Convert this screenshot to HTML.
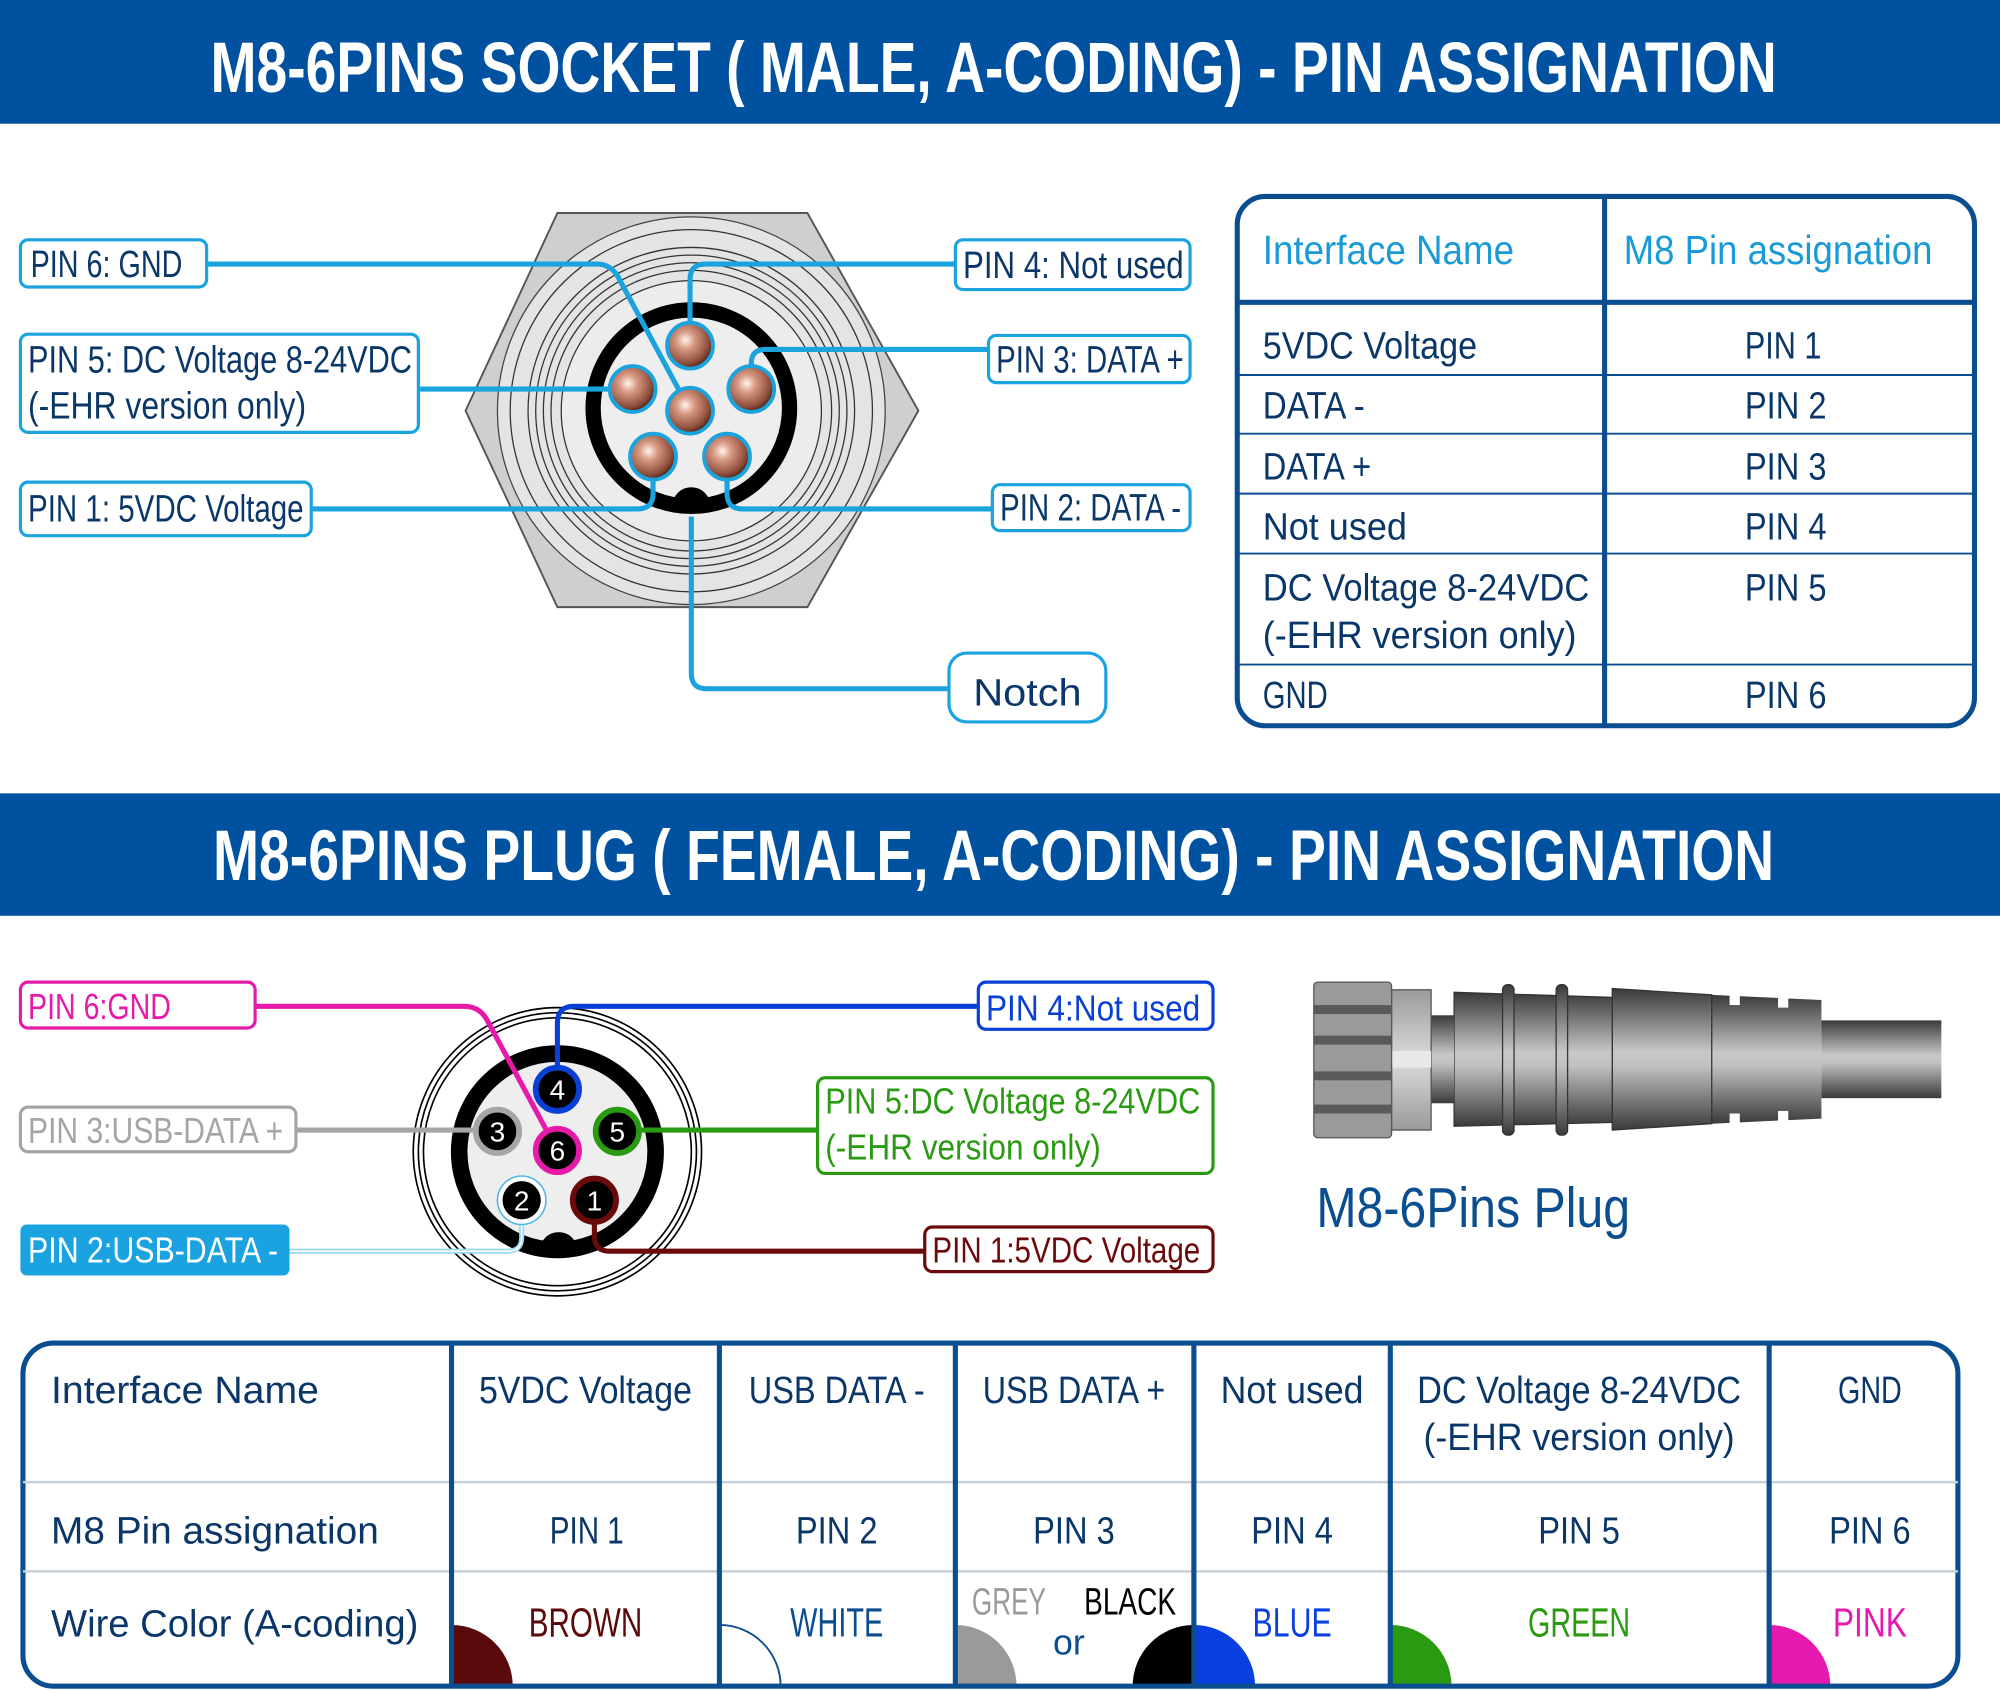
<!DOCTYPE html>
<html><head><meta charset="utf-8"><style>
html,body{margin:0;padding:0;background:#fff;}
svg{display:block;}
text{font-family:"Liberation Sans",sans-serif;}
.t{fill:#0a3768;font-size:30px;}
.hd{fill:#fff;font-size:56px;font-weight:bold;}
</style></head><body>
<svg width="2000" height="1690" viewBox="0 0 1568 1325" preserveAspectRatio="none" xmlns="http://www.w3.org/2000/svg">
<defs>
<radialGradient id="cu" cx="0.4" cy="0.38" r="0.65">
<stop offset="0" stop-color="#fff4ee"/><stop offset="0.3" stop-color="#d99a84"/><stop offset="0.8" stop-color="#8a4a38"/><stop offset="1" stop-color="#3a1a10"/></radialGradient>
<linearGradient id="gv" x1="0" y1="0" x2="0" y2="1">
<stop offset="0" stop-color="#3a3a3a"/><stop offset="0.45" stop-color="#c8c8c8"/><stop offset="0.55" stop-color="#c0c0c0"/><stop offset="1" stop-color="#3a3a3a"/></linearGradient>
<linearGradient id="gl" x1="0" y1="0" x2="0" y2="1">
<stop offset="0" stop-color="#9a9a9a"/><stop offset="0.5" stop-color="#dcdcdc"/><stop offset="1" stop-color="#9a9a9a"/></linearGradient>
</defs>

<rect x="0" y="0" width="1568" height="97" fill="#0052a0"/>
<text x="779" y="72" text-anchor="middle" class="hd" textLength="1228" lengthAdjust="spacingAndGlyphs">M8-6PINS SOCKET ( MALE, A-CODING) - PIN ASSIGNATION</text>

<polygon points="437,167 633,167 720,322 633,476 437,476 365,322" fill="#cfcfcf" stroke="#555" stroke-width="1.5"/>
<circle cx="542" cy="322" r="152" fill="#e4e4e4" stroke="#444" stroke-width="1"/>
<circle cx="542" cy="322" r="142" fill="none" stroke="#333" stroke-width="1"/>
<circle cx="542" cy="322" r="128" fill="none" stroke="#333" stroke-width="1"/>
<circle cx="542" cy="322" r="122" fill="none" stroke="#333" stroke-width="1"/>
<circle cx="542" cy="322" r="116" fill="none" stroke="#333" stroke-width="1"/>
<circle cx="542" cy="322" r="110" fill="none" stroke="#333" stroke-width="1"/>
<circle cx="542" cy="322" r="102" fill="#ececec" stroke="#333" stroke-width="1"/>
<circle cx="542" cy="320" r="77" fill="#eeeeee" stroke="#000" stroke-width="12"/>
<path d="M527,397 A15,15 0 0 1 557,397 Z" fill="#000"/>
<g stroke="#1aa3dd" stroke-width="4" fill="none">
<path d="M162,207 H468 Q478,207 484,216 L541,322"/>
<path d="M328,305 H480"/>
<path d="M244,399 H500 Q512,399 512,387 V375"/>
<path d="M749,207 H553 Q541,207 541,219 V255"/>
<path d="M775,274 H600 Q589,274 589,285 V290"/>
<path d="M778,399 H582 Q570,399 570,387 V375"/>
<path d="M542,405 V528 Q542,540 554,540 H744"/>
</g>
<g stroke="#1aa3dd" stroke-width="3" fill="url(#cu)">
<circle cx="541" cy="271" r="18"/><circle cx="496" cy="305" r="18"/><circle cx="589" cy="305" r="18"/>
<circle cx="541" cy="322" r="18"/><circle cx="512" cy="358" r="18"/><circle cx="570" cy="358" r="18"/>
</g>
<g fill="#fff" stroke="#1aa3dd" stroke-width="2.5">
<rect x="16" y="188" width="146" height="37" rx="6"/>
<rect x="16" y="262" width="312" height="77" rx="6"/>
<rect x="16" y="378" width="228" height="42" rx="6"/>
<rect x="749" y="188" width="184" height="39" rx="6"/>
<rect x="775" y="263" width="158" height="37" rx="6"/>
<rect x="778" y="380" width="155" height="36" rx="6"/>
<rect x="744" y="512" width="123" height="54" rx="14"/>
</g>
<g class="t" font-size="28" lengthAdjust="spacingAndGlyphs">
<text x="24" y="217" textLength="119" lengthAdjust="spacingAndGlyphs">PIN 6: GND</text>
<text x="22" y="292" textLength="301" lengthAdjust="spacingAndGlyphs">PIN 5: DC Voltage 8-24VDC</text>
<text x="22" y="328" textLength="218" lengthAdjust="spacingAndGlyphs">(-EHR version only)</text>
<text x="22" y="409" textLength="216" lengthAdjust="spacingAndGlyphs">PIN 1: 5VDC Voltage</text>
<text x="755" y="218" textLength="173" lengthAdjust="spacingAndGlyphs">PIN 4: Not used</text>
<text x="781" y="292" textLength="147" lengthAdjust="spacingAndGlyphs">PIN 3: DATA +</text>
<text x="784" y="408" textLength="142" lengthAdjust="spacingAndGlyphs">PIN 2: DATA -</text>
</g>
<text x="763" y="553" class="t" font-size="36" textLength="85" lengthAdjust="spacingAndGlyphs">Notch</text>

<rect x="970" y="154" width="578" height="415" rx="22" fill="none" stroke="#0b4e8f" stroke-width="4"/>
<line x1="1258" y1="154" x2="1258" y2="569" stroke="#0b4e8f" stroke-width="4"/>
<line x1="970" y1="237" x2="1548" y2="237" stroke="#0b4e8f" stroke-width="4"/>
<g stroke="#0b4e8f" stroke-width="1.5">
<line x1="970" y1="294" x2="1548" y2="294"/><line x1="970" y1="340" x2="1548" y2="340"/>
<line x1="970" y1="387" x2="1548" y2="387"/><line x1="970" y1="434" x2="1548" y2="434"/>
<line x1="970" y1="521" x2="1548" y2="521"/>
</g>
<text x="990" y="207" font-size="32" fill="#1a9ad6" textLength="197" lengthAdjust="spacingAndGlyphs">Interface Name</text>
<text x="1273" y="207" font-size="32" fill="#1a9ad6" textLength="242" lengthAdjust="spacingAndGlyphs">M8 Pin assignation</text>
<g class="t">
<text x="990" y="281" textLength="168" lengthAdjust="spacingAndGlyphs">5VDC Voltage</text>
<text x="990" y="328" textLength="80" lengthAdjust="spacingAndGlyphs">DATA -</text>
<text x="990" y="376" textLength="85" lengthAdjust="spacingAndGlyphs">DATA +</text>
<text x="990" y="423" textLength="113" lengthAdjust="spacingAndGlyphs">Not used</text>
<text x="990" y="471" textLength="256" lengthAdjust="spacingAndGlyphs">DC Voltage 8-24VDC</text>
<text x="990" y="508" textLength="246" lengthAdjust="spacingAndGlyphs">(-EHR version only)</text>
<text x="990" y="555" textLength="51" lengthAdjust="spacingAndGlyphs">GND</text>
</g>
<g class="t" text-anchor="middle">
<text x="1398" y="281" textLength="60" lengthAdjust="spacingAndGlyphs">PIN 1</text>
<text x="1400" y="328" textLength="64" lengthAdjust="spacingAndGlyphs">PIN 2</text>
<text x="1400" y="376" textLength="64" lengthAdjust="spacingAndGlyphs">PIN 3</text>
<text x="1400" y="423" textLength="64" lengthAdjust="spacingAndGlyphs">PIN 4</text>
<text x="1400" y="471" textLength="64" lengthAdjust="spacingAndGlyphs">PIN 5</text>
<text x="1400" y="555" textLength="64" lengthAdjust="spacingAndGlyphs">PIN 6</text>
</g>

<rect x="0" y="622" width="1568" height="96" fill="#0052a0"/>
<text x="779" y="690" text-anchor="middle" class="hd" textLength="1224" lengthAdjust="spacingAndGlyphs">M8-6PINS PLUG ( FEMALE, A-CODING) - PIN ASSIGNATION</text>

<g fill="none" stroke="#000" stroke-width="1.3">
<circle cx="437" cy="903" r="113"/><circle cx="437" cy="903" r="109"/><circle cx="437" cy="903" r="105"/>
</g>
<circle cx="437" cy="903" r="77" fill="#eee" stroke="#000" stroke-width="13"/>
<path d="M423,981 A15,15 0 0 1 453,981 Z" fill="#000"/>
<g fill="none" stroke-width="4">
<path d="M200,789 H364 Q376,789 382,800 L437,902" stroke="#e61aa8"/>
<path d="M232,886 H372" stroke="#a5a5a5"/>
<path d="M767,789 H450 Q437,789 437,802 V836" stroke="#0a3fd6"/>
<path d="M641,886 H502" stroke="#2a9a12"/>
<path d="M725,981 H478 Q466,981 466,969 V958" stroke="#6b0a0a"/>
<path d="M227,981 H398 Q409,981 409,970 V958" stroke="#9fd8f0"/>
</g>
<path d="M227,981 H398 Q409,981 409,970 V958" stroke="#fff" stroke-width="1.2" fill="none"/>
<g stroke-width="4.5" fill="#000">
<circle cx="437" cy="854" r="17" stroke="#0a3fd6"/>
<circle cx="390" cy="887" r="17" stroke="#a5a5a5"/>
<circle cx="437" cy="902" r="17" stroke="#e61aa8"/>
<circle cx="484" cy="887" r="17" stroke="#2a9a12"/>
<circle cx="466" cy="941" r="17" stroke="#6b0a0a"/>
</g>
<circle cx="409" cy="941" r="19" fill="#fff" stroke="#4ab8e0" stroke-width="1.2"/>
<circle cx="409" cy="941" r="15" fill="#000"/>
<g fill="#fff" font-size="22" text-anchor="middle">
<text x="437" y="862">4</text><text x="390" y="895">3</text><text x="437" y="910">6</text>
<text x="484" y="895">5</text><text x="466" y="949">1</text><text x="409" y="949">2</text>
</g>
<rect x="16" y="770" width="184" height="36" rx="6" fill="#fff" stroke="#e61aa8" stroke-width="2.5"/>
<text x="22" y="799" font-size="28" fill="#e61aa8" textLength="112" lengthAdjust="spacingAndGlyphs">PIN 6:GND</text>
<rect x="16" y="868" width="216" height="35" rx="6" fill="#fff" stroke="#a5a5a5" stroke-width="2.5"/>
<text x="22" y="896" font-size="28" fill="#a5a5a5" textLength="200" lengthAdjust="spacingAndGlyphs">PIN 3:USB-DATA +</text>
<rect x="16" y="960" width="211" height="40" rx="5" fill="#1aa3e0"/>
<text x="22" y="990" font-size="28" fill="#fff" textLength="196" lengthAdjust="spacingAndGlyphs">PIN 2:USB-DATA -</text>
<rect x="767" y="770" width="184" height="37" rx="6" fill="#fff" stroke="#0a3fd6" stroke-width="2.5"/>
<text x="773" y="800" font-size="28" fill="#0a3fd6" textLength="168" lengthAdjust="spacingAndGlyphs">PIN 4:Not used</text>
<rect x="641" y="845" width="310" height="75" rx="6" fill="#fff" stroke="#2a9a12" stroke-width="2.5"/>
<text x="647" y="873" font-size="28" fill="#2a9a12" textLength="294" lengthAdjust="spacingAndGlyphs">PIN 5:DC Voltage 8-24VDC</text>
<text x="647" y="909" font-size="28" fill="#2a9a12" textLength="216" lengthAdjust="spacingAndGlyphs">(-EHR version only)</text>
<rect x="725" y="962" width="226" height="35" rx="6" fill="#fff" stroke="#6b0a0a" stroke-width="2.5"/>
<text x="731" y="990" font-size="28" fill="#6b0a0a" textLength="210" lengthAdjust="spacingAndGlyphs">PIN 1:5VDC Voltage</text>

<rect x="1428" y="800" width="94" height="61" fill="url(#gv)"/>
<path d="M1342,780 L1428,784 L1428,877 L1342,881 Z" fill="url(#gv)"/>
<rect x="1356" y="776" width="8" height="12" fill="#fff"/><rect x="1356" y="873" width="8" height="12" fill="#fff"/>
<rect x="1394" y="776" width="8" height="14" fill="#fff"/><rect x="1394" y="871" width="8" height="14" fill="#fff"/>
<path d="M1264,775 L1342,780 L1342,881 L1264,886 Z" fill="url(#gv)" stroke="#333" stroke-width="1"/>
<path d="M1140,778 L1264,782 L1264,880 L1140,883 Z" fill="url(#gv)" stroke="#333" stroke-width="1"/>
<rect x="1178" y="772" width="9" height="118" rx="4" fill="url(#gv)" stroke="#333" stroke-width="1"/>
<rect x="1220" y="772" width="9" height="118" rx="4" fill="url(#gv)" stroke="#333" stroke-width="1"/>
<rect x="1122" y="796" width="18" height="69" fill="url(#gv)"/>
<rect x="1091" y="776" width="31" height="110" fill="url(#gl)" stroke="#555" stroke-width="1"/>
<rect x="1091" y="824" width="31" height="13" fill="#e8e8e8"/>
<rect x="1030" y="770" width="61" height="122" rx="3" fill="#9a9a9a" stroke="#555" stroke-width="1"/>
<g fill="#5a5a5a"><rect x="1030" y="788" width="61" height="7"/><rect x="1030" y="812" width="61" height="7"/><rect x="1030" y="840" width="61" height="7"/><rect x="1030" y="866" width="61" height="7"/></g>
<text x="1032" y="962" font-size="44" fill="#0b4e8f" textLength="246" lengthAdjust="spacingAndGlyphs">M8-6Pins Plug</text>

<clipPath id="bt"><rect x="18" y="1053" width="1517" height="269" rx="24"/></clipPath>
<g clip-path="url(#bt)">
<path d="M354,1322 h48 a48,48 0 0 0 -48,-48 Z" fill="#5a0a0a"/>
<path d="M564,1322 h48 a48,48 0 0 0 -48,-48 Z" fill="none" stroke="#0b4e8f" stroke-width="1.5"/>
<path d="M749,1322 h48 a48,48 0 0 0 -48,-48 Z" fill="#9a9a9a"/>
<path d="M936,1322 h-48 a48,48 0 0 1 48,-48 Z" fill="#000"/>
<path d="M936,1322 h48 a48,48 0 0 0 -48,-48 Z" fill="#0a3fe0"/>
<path d="M1090,1322 h48 a48,48 0 0 0 -48,-48 Z" fill="#2a9a12"/>
<path d="M1387,1322 h48 a48,48 0 0 0 -48,-48 Z" fill="#e619b0"/>
</g>
<rect x="18" y="1053" width="1517" height="269" rx="24" fill="none" stroke="#0b4e8f" stroke-width="4"/>
<g stroke="#c8d0d8" stroke-width="2"><line x1="18" y1="1162" x2="1535" y2="1162"/><line x1="18" y1="1232" x2="1535" y2="1232"/></g>
<g stroke="#0b4e8f" stroke-width="4">
<line x1="354" y1="1053" x2="354" y2="1322"/><line x1="564" y1="1053" x2="564" y2="1322"/>
<line x1="749" y1="1053" x2="749" y2="1322"/><line x1="936" y1="1053" x2="936" y2="1322"/>
<line x1="1090" y1="1053" x2="1090" y2="1322"/><line x1="1387" y1="1053" x2="1387" y2="1322"/>
</g>
<g class="t" font-size="33">
<text x="40" y="1100" textLength="210" lengthAdjust="spacingAndGlyphs">Interface Name</text>
<text x="40" y="1210" textLength="257" lengthAdjust="spacingAndGlyphs">M8 Pin assignation</text>
<text x="40" y="1283" textLength="288" lengthAdjust="spacingAndGlyphs">Wire Color (A-coding)</text>
</g>
<g class="t" text-anchor="middle">
<text x="459" y="1100" textLength="167" lengthAdjust="spacingAndGlyphs">5VDC Voltage</text>
<text x="656" y="1100" textLength="138" lengthAdjust="spacingAndGlyphs">USB DATA -</text>
<text x="842" y="1100" textLength="143" lengthAdjust="spacingAndGlyphs">USB DATA +</text>
<text x="1013" y="1100" textLength="112" lengthAdjust="spacingAndGlyphs">Not used</text>
<text x="1238" y="1100" textLength="254" lengthAdjust="spacingAndGlyphs">DC Voltage 8-24VDC</text>
<text x="1238" y="1137" textLength="244" lengthAdjust="spacingAndGlyphs">(-EHR version only)</text>
<text x="1466" y="1100" textLength="50" lengthAdjust="spacingAndGlyphs">GND</text>
<text x="460" y="1210" textLength="58" lengthAdjust="spacingAndGlyphs">PIN 1</text>
<text x="656" y="1210" textLength="64" lengthAdjust="spacingAndGlyphs">PIN 2</text>
<text x="842" y="1210" textLength="64" lengthAdjust="spacingAndGlyphs">PIN 3</text>
<text x="1013" y="1210" textLength="64" lengthAdjust="spacingAndGlyphs">PIN 4</text>
<text x="1238" y="1210" textLength="64" lengthAdjust="spacingAndGlyphs">PIN 5</text>
<text x="1466" y="1210" textLength="64" lengthAdjust="spacingAndGlyphs">PIN 6</text>
</g>
<g font-size="32" text-anchor="middle">
<text x="459" y="1283" fill="#5a0a0a" textLength="89" lengthAdjust="spacingAndGlyphs">BROWN</text>
<text x="656" y="1283" fill="#0b4e8f" textLength="73" lengthAdjust="spacingAndGlyphs">WHITE</text>
<text x="791" y="1266" fill="#9a9a9a" font-size="30" textLength="58" lengthAdjust="spacingAndGlyphs">GREY</text>
<text x="886" y="1266" fill="#000" font-size="30" textLength="72" lengthAdjust="spacingAndGlyphs">BLACK</text>
<text x="838" y="1297" fill="#0b4e8f" font-size="28">or</text>
<text x="1013" y="1283" fill="#0a3fe0" textLength="62" lengthAdjust="spacingAndGlyphs">BLUE</text>
<text x="1238" y="1283" fill="#2a9a12" textLength="80" lengthAdjust="spacingAndGlyphs">GREEN</text>
<text x="1466" y="1283" fill="#e619b0" textLength="58" lengthAdjust="spacingAndGlyphs">PINK</text>
</g>
</svg>
</body></html>
